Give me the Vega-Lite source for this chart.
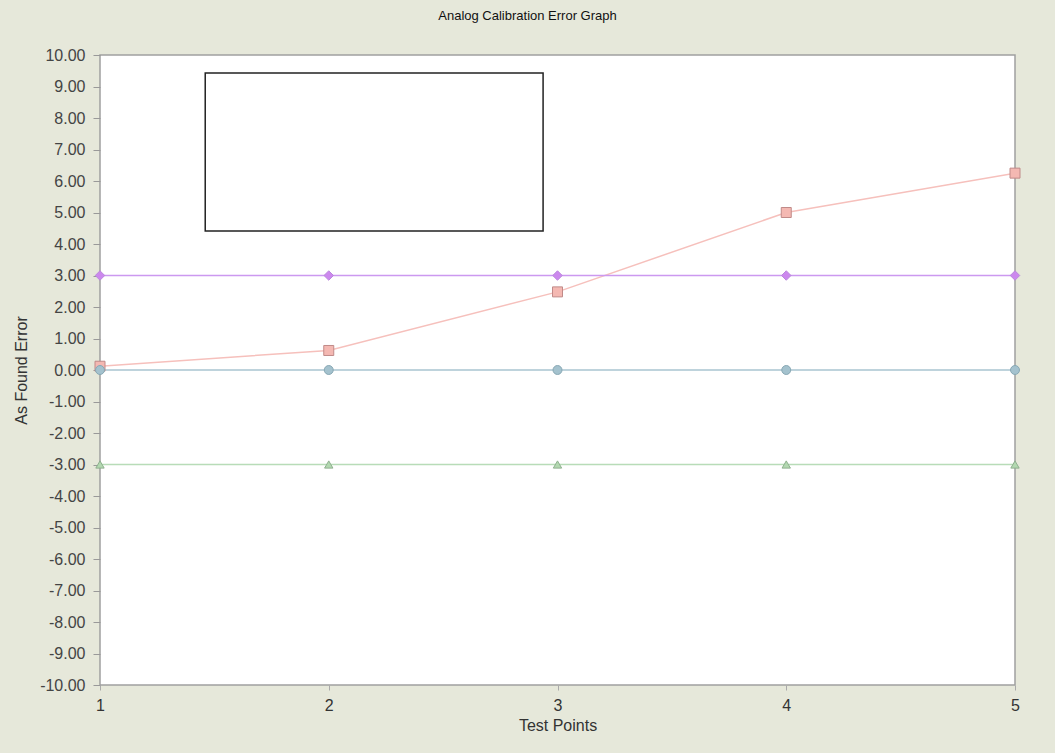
{
  "$schema": "https://vega.github.io/schema/vega-lite/v6.json",
  "width": 915,
  "height": 630,
  "autosize": {"type": "none"},
  "padding": {"left": 100, "top": 55, "right": 40, "bottom": 68},
  "background": "#e6e8da",
  "title": {"text": "Analog Calibration Error Graph", "fontSize": 13, "fontWeight": "normal", "font": "Liberation Sans", "color": "#111111", "offset": 24, "dx": -30},
  "config": {
    "font": "Liberation Sans",
    "view": {"fill": "#ffffff", "stroke": "#a0a0a0", "strokeWidth": 1.5},
    "axis": {"labelOverlap": false}
  },
  "datasets": {
    "series": [
      {"series": "As Found", "point": 1, "value": 0.12},
      {"series": "As Found", "point": 2, "value": 0.62},
      {"series": "As Found", "point": 3, "value": 2.48},
      {"series": "As Found", "point": 4, "value": 5.0},
      {"series": "As Found", "point": 5, "value": 6.25},
      {"series": "Upper Limit", "point": 1, "value": 3},
      {"series": "Upper Limit", "point": 2, "value": 3},
      {"series": "Upper Limit", "point": 3, "value": 3},
      {"series": "Upper Limit", "point": 4, "value": 3},
      {"series": "Upper Limit", "point": 5, "value": 3},
      {"series": "Zero", "point": 1, "value": 0},
      {"series": "Zero", "point": 2, "value": 0},
      {"series": "Zero", "point": 3, "value": 0},
      {"series": "Zero", "point": 4, "value": 0},
      {"series": "Zero", "point": 5, "value": 0},
      {"series": "Lower Limit", "point": 1, "value": -3},
      {"series": "Lower Limit", "point": 2, "value": -3},
      {"series": "Lower Limit", "point": 3, "value": -3},
      {"series": "Lower Limit", "point": 4, "value": -3},
      {"series": "Lower Limit", "point": 5, "value": -3}
    ],
    "legendbox": [
      {"point": 1.46, "point2": 2.937, "value": 9.43, "value2": 4.41}
    ]
  },
  "encoding": {
    "x": {"field": "point", "type": "quantitative", "scale": {"domain": [1, 5], "nice": false, "zero": false},
          "axis": {"values": [1, 2, 3, 4, 5], "format": "d", "title": "Test Points", "grid": false, "domain": false, "ticks": true, "tickColor": "#aaaaaa", "tickSize": 5,
                   "labelFlush": false, "labelOverlap": false,
                   "labelFontSize": 16, "labelColor": "#333333", "labelPadding": 7, "titleFontSize": 16, "titleFontWeight": "normal", "titleColor": "#333333", "titlePadding": 4}},
    "y": {"field": "value", "type": "quantitative", "scale": {"domain": [-10, 10], "nice": false, "zero": false},
          "axis": {"values": [-10, -9, -8, -7, -6, -5, -4, -3, -2, -1, 0, 1, 2, 3, 4, 5, 6, 7, 8, 9, 10],
                   "tickCount": 21,
                   "labelExpr": "replace(format(datum.value, '.2f'), '\u2212', '-')",
                   "labelOverlap": false, "labelFlush": false,
                   "title": "As Found Error", "grid": false, "domain": false,
                   "tickColor": "#999999", "tickSize": 7, "labelPadding": 8, "labelFontSize": 16, "labelColor": "#444444", "titleFontSize": 16, "titleFontWeight": "normal", "titleColor": "#333333", "titlePadding": 10}}
  },
  "layer": [
    {
      "data": {"name": "series"},
      "mark": {"type": "line", "strokeWidth": 1.5, "clip": true},
      "encoding": {
        "color": {"field": "series", "type": "nominal", "legend": null,
                  "scale": {"domain": ["As Found", "Upper Limit", "Zero", "Lower Limit"], "range": ["#f6c0bc", "#cc99f0", "#a8c4d0", "#b8dcb8"]}},
        "detail": {"field": "series"}
      }
    },
    {
      "data": {"name": "series"},
      "mark": {"type": "point", "filled": true, "opacity": 1, "strokeWidth": 1, "clip": false},
      "encoding": {
        "fill": {"field": "series", "type": "nominal", "legend": null,
                 "scale": {"domain": ["As Found", "Upper Limit", "Zero", "Lower Limit"], "range": ["#f4b8b2", "#cc88ee", "#a4c2ce", "#b2d8b0"]}},
        "stroke": {"field": "series", "type": "nominal", "legend": null,
                   "scale": {"domain": ["As Found", "Upper Limit", "Zero", "Lower Limit"], "range": ["#c08a88", "#bb88dd", "#88a8b4", "#8fb08f"]}},
        "shape": {"field": "series", "type": "nominal", "legend": null,
                  "scale": {"domain": ["As Found", "Upper Limit", "Zero", "Lower Limit"], "range": ["square", "diamond", "circle", "triangle-up"]}},
        "size": {"field": "series", "type": "nominal", "legend": null,
                 "scale": {"domain": ["As Found", "Upper Limit", "Zero", "Lower Limit"], "range": [100, 70, 90, 80]}}
      }
    },
    {
      "data": {"name": "legendbox"},
      "mark": {"type": "rect", "fill": "#ffffff", "stroke": "#222222", "strokeWidth": 1.5},
      "encoding": {
        "x2": {"field": "point2"},
        "y2": {"field": "value2"}
      }
    }
  ]
}
